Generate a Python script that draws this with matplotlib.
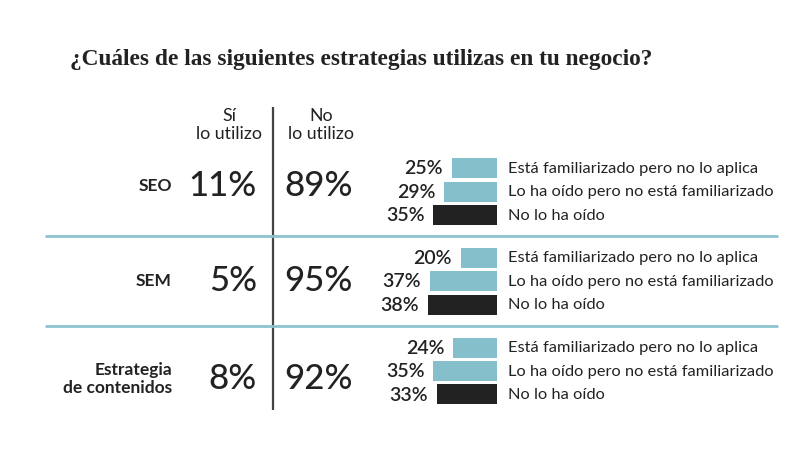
import matplotlib.pyplot as plt

# data
categories = ["SEO", "SEM", "Estrategia\nde contenidos"]
si_utilizo = [11, 5, 8]
no_utilizo = [89, 95, 92]
niveles = ["Está familiarizado pero no lo aplica",
           "Lo ha oído pero no está familiarizado",
           "No lo ha oído"]
seo = [25, 29, 35]
sem = [20, 37, 38]
contenidos = [24, 35, 33]
detalle = [seo, sem, contenidos]

title = "¿Cuáles de las siguientes estrategias utilizas en tu negocio?"

# layout (pixel coords of an 800x456 canvas)
text_col = "#222222"
blue = "#84bfcb"
dark = "#222222"
sep_col = "#8cc3cf"
group_y = [192.5, 282, 372]
label_y = [186, 281, 379]
pitch = 23.5
bar_right = 497
px_per_pct = 1.82

plt.rcParams['font.family'] = ['Lato', 'DejaVu Sans']

fig = plt.figure(figsize=(8, 4.56), dpi=100)
ax = fig.add_axes([0, 0, 1, 1])
ax.set_xlim(0, 800)
ax.set_ylim(456, 0)
ax.axis("off")

fig.text(70 / 800, 1 - 60 / 456, title, family=['Liberation Serif'],
         fontsize=16.8, fontweight="bold", color=text_col,
         va="center", ha="left")

# headers
ax.text(229, 125, "Sí\nlo utilizo", ha="center", va="center", fontsize=12.8,
        color=text_col, linespacing=1.2)
ax.text(321, 125, "No\nlo utilizo", ha="center", va="center", fontsize=12.8,
        color=text_col, linespacing=1.2)

# vertical divider
ax.plot([273, 273], [108, 411], color="#444444", lw=1.6, solid_capstyle="butt")

# horizontal separators
for i in range(len(categories) - 1):
    ys = (group_y[i] + group_y[i + 1]) / 2
    ax.plot([45, 778], [ys, ys], color=sep_col, lw=2, solid_capstyle="butt")

for i, cat in enumerate(categories):
    ly = label_y[i]
    ax.text(172, ly, cat, ha="right", va="center", fontsize=12.5,
            fontweight="bold", color=text_col, linespacing=1.2)
    ax.text(257, ly, f"{si_utilizo[i]}%", ha="right", va="center",
            fontsize=25, fontweight="medium", color=text_col)
    ax.text(284, ly, f"{no_utilizo[i]}%", ha="left", va="center",
            fontsize=25, fontweight="medium", color=text_col)

    vals = detalle[i]
    ys = [group_y[i] + (j - 1) * pitch for j in range(len(vals))]
    widths = [v * px_per_pct for v in vals]
    lefts = [bar_right - w for w in widths]
    colors = [blue, blue, dark]
    ax.barh(ys, widths, left=lefts, height=20, color=colors)
    for j, v in enumerate(vals):
        ax.text(lefts[j] - 9, ys[j], f"{v}%", ha="right", va="center",
                fontsize=14, fontweight="semibold", color=text_col)
        ax.text(508, ys[j], niveles[j], ha="left", va="center",
                fontsize=11.8, color=text_col)

fig.savefig("out.png", dpi=100)
